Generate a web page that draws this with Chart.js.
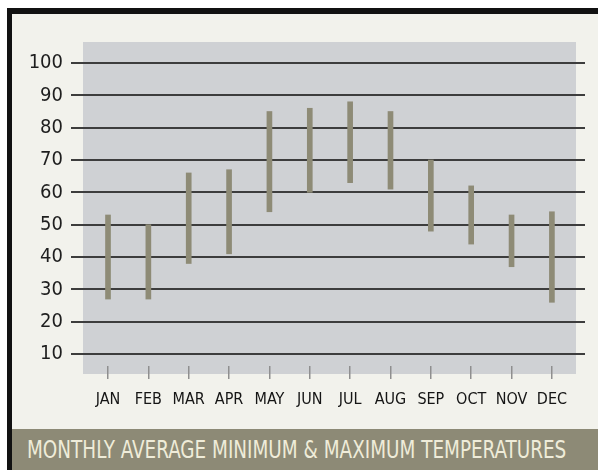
<!DOCTYPE html>
<html>
<head>
<meta charset="utf-8">
<script src="https://cdn.jsdelivr.net/npm/chart.js@4.4.1/dist/chart.umd.min.js"></script>
<style>
  body { margin: 0; background: #fff; }
  #frame {
    position: absolute; left: 7px; top: 8px; width: 586px; height: 456px;
    border-left: 5px solid #111; border-top: 6px solid #111;
    background: #f2f2ec;
  }
  #wrap { position: absolute; left: 0; top: 0; width: 598px; height: 470px; }
  #banner {
    position: absolute; left: 12px; top: 429px; width: 586px; height: 41px;
    background: #8d8a76; overflow: hidden;
  }
  #banner span {
    position: absolute; left: 15px; top: 1px;
    color: #efecd9; font-family: "DejaVu Sans Condensed", "Liberation Sans", sans-serif;
    font-size: 24px; line-height: 41px; white-space: nowrap;
    transform-origin: 0 50%;
  }
</style>
</head>
<body>
<div id="frame"></div>
<div id="wrap"><canvas id="tempChart" width="598" height="470"></canvas></div>
<div id="banner"><span id="bannerText">MONTHLY AVERAGE MINIMUM &amp; MAXIMUM TEMPERATURES</span></div>
<script>
  // data
  const months = ["JAN", "FEB", "MAR", "APR", "MAY", "JUN", "JUL", "AUG", "SEP", "OCT", "NOV", "DEC"];
  const minTemps = [27, 27, 38, 41, 54, 60, 63, 61, 48, 44, 37, 26];
  const maxTemps = [53, 50, 66, 67, 85, 86, 88, 85, 70, 62, 53, 54];
  const yTicks = [10, 20, 30, 40, 50, 60, 70, 80, 90, 100];

  const ranges = months.map((m, i) => ({ x: i, y: [minTemps[i], maxTemps[i]] }));

  // squeeze the banner title to the condensed width of the original
  const bt = document.getElementById('bannerText');
  bt.style.transform = 'scaleX(' + (539 / bt.offsetWidth) + ')';

  const tickFont = "'DejaVu Sans Condensed', 'Liberation Sans', sans-serif";

  // gray panel behind the grid
  const panelBg = {
    id: 'panelBg',
    beforeDraw(chart) {
      const ctx = chart.ctx;
      ctx.save();
      ctx.fillStyle = '#cfd1d4';
      ctx.fillRect(83, 42, 493, 332);
      ctx.restore();
    }
  };

  new Chart(document.getElementById('tempChart'), {
    type: 'bar',
    data: {
      datasets: [{
        data: ranges,
        backgroundColor: '#8e8b76',
        barThickness: 5,
        borderSkipped: false
      }]
    },
    options: {
      responsive: false,
      animation: false,
      layout: { padding: { top: 63, right: 13, left: 0, bottom: 0 } },
      plugins: { legend: { display: false }, tooltip: { enabled: false } },
      scales: {
        x: {
          type: 'linear',
          offset: false,
          min: -0.917,
          max: 11.82,
          afterBuildTicks(scale) {
            scale.ticks = months.map((m, i) => ({ value: i }));
          },
          afterFit(scale) { scale.height = 104; },
          grid: {
            offset: false,
            drawOnChartArea: false,
            drawTicks: true,
            tickLength: 13,
            color: '#8f8f8f',
            lineWidth: 1.5
          },
          border: { display: false },
          ticks: {
            padding: 11,
            color: '#151515',
            autoSkip: false,
            maxRotation: 0,
            font: { family: tickFont, size: 16 },
            callback: (v) => months[v]
          }
        },
        y: {
          min: 6.3,
          max: 100,
          afterBuildTicks(scale) {
            scale.ticks = yTicks.map(v => ({ value: v }));
          },
          afterFit(scale) { scale.width = 71; },
          grid: { color: '#3d3d3d', lineWidth: 2, drawTicks: false },
          border: { display: false },
          ticks: {
            padding: 8,
            color: '#1e1e1e',
            font: { family: tickFont, size: 20 }
          }
        }
      }
    },
    plugins: [panelBg]
  });
</script>
</body>
</html>
